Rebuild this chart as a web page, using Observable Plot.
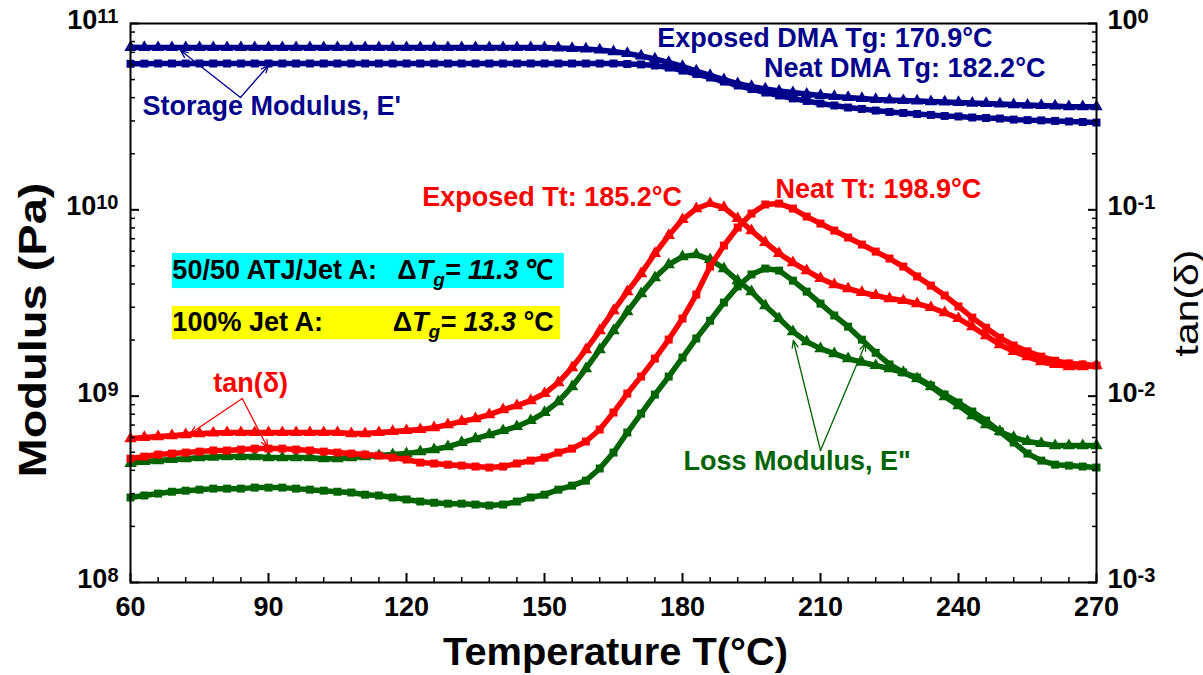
<!DOCTYPE html>
<html>
<head>
<meta charset="utf-8">
<script src="https://cdn.jsdelivr.net/npm/d3@7"></script>
<script src="https://cdn.jsdelivr.net/npm/@observablehq/plot@0.6"></script>
<style>
  html, body { margin: 0; padding: 0; background: #fff; }
  #chart { width: 1203px; height: 675px; }
</style>
</head>
<body>
<div id="chart"></div>
<script>
// ---------- data ----------
const temperatures = d3.range(60, 271, 3); // °C, 60..270 every 3 °C (71 points)

// Storage modulus E' (Pa)
const storageExposed = [
  7.45e10, 7.44e10, 7.43e10, 7.43e10, 7.43e10, 7.43e10, 7.43e10, 7.43e10, 7.43e10, 7.43e10,
  7.43e10, 7.43e10, 7.43e10, 7.43e10, 7.43e10, 7.43e10, 7.43e10, 7.43e10, 7.43e10, 7.43e10,
  7.43e10, 7.43e10, 7.43e10, 7.43e10, 7.43e10, 7.43e10, 7.43e10, 7.43e10, 7.43e10, 7.43e10,
  7.43e10, 7.39e10, 7.34e10, 7.30e10, 7.21e10, 7.07e10, 6.90e10, 6.69e10, 6.45e10, 6.18e10,
  5.88e10, 5.56e10, 5.26e10, 5.00e10, 4.76e10, 4.59e10, 4.45e10, 4.34e10, 4.26e10, 4.18e10,
  4.11e10, 4.06e10, 4.01e10, 3.96e10, 3.91e10, 3.89e10, 3.86e10, 3.84e10, 3.81e10, 3.79e10,
  3.77e10, 3.74e10, 3.72e10, 3.70e10, 3.67e10, 3.65e10, 3.63e10, 3.61e10, 3.58e10, 3.58e10,
  3.58e10
];
const storageNeat = [
  6.08e10, 6.09e10, 6.10e10, 6.10e10, 6.10e10, 6.10e10, 6.10e10, 6.10e10, 6.10e10, 6.10e10,
  6.10e10, 6.10e10, 6.10e10, 6.10e10, 6.10e10, 6.10e10, 6.10e10, 6.10e10, 6.10e10, 6.10e10,
  6.10e10, 6.10e10, 6.10e10, 6.10e10, 6.10e10, 6.10e10, 6.10e10, 6.10e10, 6.10e10, 6.10e10,
  6.10e10, 6.10e10, 6.10e10, 6.10e10, 6.10e10, 6.10e10, 6.06e10, 6.03e10, 5.95e10, 5.80e10,
  5.59e10, 5.36e10, 5.13e10, 4.88e10, 4.65e10, 4.45e10, 4.26e10, 4.11e10, 3.96e10, 3.84e10,
  3.72e10, 3.63e10, 3.54e10, 3.48e10, 3.41e10, 3.35e10, 3.31e10, 3.27e10, 3.23e10, 3.19e10,
  3.17e10, 3.13e10, 3.11e10, 3.09e10, 3.05e10, 3.03e10, 3.02e10, 3.00e10, 2.98e10, 2.96e10,
  2.94e10
];
// tan(delta) (right axis)
const tanExposed = [
  5.92e-3, 6.00e-3, 6.07e-3, 6.14e-3, 6.22e-3, 6.30e-3, 6.34e-3, 6.38e-3, 6.38e-3, 6.38e-3,
  6.38e-3, 6.38e-3, 6.38e-3, 6.38e-3, 6.38e-3, 6.38e-3, 6.30e-3, 6.30e-3, 6.38e-3, 6.46e-3,
  6.54e-3, 6.62e-3, 6.78e-3, 7.04e-3, 7.31e-3, 7.58e-3, 7.96e-3, 8.47e-3, 8.90e-3, 9.47e-3,
  1.033e-2, 1.183e-2, 1.424e-2, 1.779e-2, 2.249e-2, 2.880e-2, 3.642e-2, 4.55e-2, 5.83e-2, 7.28e-2,
  8.87e-2, 0.1016, 0.1081, 0.1029, 8.98e-2, 7.74e-2, 6.68e-2, 5.83e-2, 5.21e-2, 4.72e-2,
  4.28e-2, 3.97e-2, 3.78e-2, 3.60e-2, 3.47e-2, 3.34e-2, 3.26e-2, 3.14e-2, 2.99e-2, 2.81e-2,
  2.61e-2, 2.36e-2, 2.11e-2, 1.89e-2, 1.74e-2, 1.63e-2, 1.53e-2, 1.48e-2, 1.44e-2, 1.44e-2,
  1.46e-2
];
const tanNeat = [
  4.62e-3, 4.74e-3, 4.86e-3, 4.92e-3, 4.98e-3, 5.04e-3, 5.11e-3, 5.11e-3, 5.17e-3, 5.23e-3,
  5.23e-3, 5.23e-3, 5.17e-3, 5.11e-3, 5.04e-3, 4.98e-3, 4.92e-3, 4.86e-3, 4.80e-3, 4.68e-3,
  4.57e-3, 4.40e-3, 4.35e-3, 4.29e-3, 4.24e-3, 4.19e-3, 4.14e-3, 4.19e-3, 4.35e-3, 4.51e-3,
  4.68e-3, 4.98e-3, 5.23e-3, 5.71e-3, 6.62e-3, 8.17e-3, 1.033e-2, 1.274e-2, 1.591e-2, 2.013e-2,
  2.61e-2, 3.51e-2, 4.96e-2, 6.43e-2, 8.04e-2, 9.55e-2, 0.1068, 0.1081, 0.1016, 9.20e-2,
  8.44e-2, 7.74e-2, 7.10e-2, 6.51e-2, 5.97e-2, 5.48e-2, 4.96e-2, 4.39e-2, 3.92e-2, 3.47e-2,
  3.03e-2, 2.64e-2, 2.33e-2, 2.06e-2, 1.87e-2, 1.74e-2, 1.63e-2, 1.55e-2, 1.50e-2, 1.48e-2,
  1.46e-2
];
// Loss modulus E'' (Pa)
const lossExposed = [
  4.35e8, 4.46e8, 4.51e8, 4.57e8, 4.62e8, 4.68e8, 4.71e8, 4.74e8, 4.74e8, 4.74e8,
  4.68e8, 4.68e8, 4.68e8, 4.68e8, 4.62e8, 4.62e8, 4.68e8, 4.74e8, 4.80e8, 4.86e8,
  4.92e8, 5.04e8, 5.17e8, 5.36e8, 5.64e8, 5.92e8, 6.22e8, 6.54e8, 6.87e8, 7.40e8,
  8.17e8, 9.35e8, 1.126e9, 1.406e9, 1.779e9, 2.249e9, 2.84e9, 3.55e9, 4.33e9, 5.08e9,
  5.61e9, 5.75e9, 5.41e9, 4.84e9, 4.17e9, 3.64e9, 3.06e9, 2.61e9, 2.22e9, 1.96e9,
  1.80e9, 1.69e9, 1.59e9, 1.52e9, 1.46e9, 1.406e9, 1.34e9, 1.24e9, 1.126e9, 9.95e8,
  8.90e8, 7.87e8, 7.04e8, 6.46e8, 6.00e8, 5.71e8, 5.57e8, 5.43e8, 5.43e8, 5.43e8,
  5.43e8
];
const lossNeat = [
  2.86e8, 2.93e8, 3.00e8, 3.07e8, 3.11e8, 3.15e8, 3.19e8, 3.19e8, 3.19e8, 3.23e8,
  3.23e8, 3.23e8, 3.19e8, 3.15e8, 3.11e8, 3.07e8, 3.04e8, 2.96e8, 2.93e8, 2.86e8,
  2.79e8, 2.72e8, 2.68e8, 2.65e8, 2.65e8, 2.62e8, 2.59e8, 2.62e8, 2.72e8, 2.86e8,
  2.96e8, 3.15e8, 3.31e8, 3.52e8, 4.09e8, 4.98e8, 6.38e8, 8.06e8, 1.020e9, 1.274e9,
  1.611e9, 2.04e9, 2.54e9, 3.18e9, 3.88e9, 4.50e9, 4.84e9, 4.72e9, 4.17e9, 3.64e9,
  3.14e9, 2.71e9, 2.36e9, 2.01e9, 1.71e9, 1.48e9, 1.34e9, 1.26e9, 1.14e9, 1.020e9,
  9.24e8, 8.27e8, 7.40e8, 6.46e8, 5.64e8, 4.92e8, 4.51e8, 4.29e8, 4.24e8, 4.19e8,
  4.14e8
];

// tick values
const xTicks = [60, 90, 120, 150, 180, 210, 240, 270];
const modulusTicks = [1e8, 1e9, 1e10, 1e11];
const tanTicks = [1e-3, 1e-2, 1e-1, 1];

// annotation texts
const noteTexts = ["Exposed DMA Tg: 170.9°C", "Neat DMA Tg: 182.2°C", "Storage Modulus, E'",
                   "Exposed Tt: 185.2°C", "Neat Tt: 198.9°C", "tan(δ)", "Loss Modulus, E\""];
const noteT = [247.4, 258.9, 62.6, 123.4, 200.2, 86.1, 180.2];
const noteE = [8.36e10, 5.77e10, 3.58e10, 1.171e10, 1.285e10, 1.168e9, 4.46e8];
const noteAnchor = ["end", "end", "start", "start", "start", "middle", "start"];
const noteKind = ["storage", "storage", "storage", "tan", "tan", "tan", "loss"];

const boxLabels = ["50/50 ATJ/Jet A:", "100% Jet A:"];
const boxDelta = ["11.3", "13.3"];
const boxUnit = ["℃", "°C"];
const boxT1 = [69.1, 69.1], boxT2 = [154.3, 153.5];
const boxE1 = [3.78e9, 2.01e9], boxE2 = [5.83e9, 3.03e9];
const boxTextE = [4.72e9, 2.48e9];
const boxDeltaT = [118.0, 117.0];
const boxKind = ["cyan", "yellow"];

const arrowT1 = [83.9, 83.9, 84.3, 84.3, 210.0, 210.0];
const arrowE1 = [4.01e10, 4.01e10, 9.71e8, 9.71e8, 5.11e8, 5.11e8];
const arrowT2 = [70.9, 90.0, 73.0, 89.8, 204.1, 219.8];
const arrowE2 = [7.16e10, 5.95e10, 6.30e8, 5.30e8, 1.99e9, 1.916e9];
const arrowKind = ["storage", "storage", "tan", "tan", "loss", "loss"];

// ---------- styles ----------
const COLORS = {storage: "#00008B", tan: "#FF0000", loss: "#006400", cyan: "#00FFFF", yellow: "#FFFF00"};
const TAN_TO_MODULUS = 1e11; // right axis 1e-3..1e0 shares the pixels of 1e8..1e11
const FONT = "'Liberation Sans', Arial, Helvetica, sans-serif";

const seriesDefs = [
  {values: lossNeat, factor: 1, kind: "loss", symbol: "square"},
  {values: lossExposed, factor: 1, kind: "loss", symbol: "triangle"},
  {values: tanNeat, factor: TAN_TO_MODULUS, kind: "tan", symbol: "square"},
  {values: tanExposed, factor: TAN_TO_MODULUS, kind: "tan", symbol: "triangle"},
  {values: storageNeat, factor: 1, kind: "storage", symbol: "square"},
  {values: storageExposed, factor: 1, kind: "storage", symbol: "triangle"}
];

const marks = [];
for (const s of seriesDefs) {
  const rows = s.values.map((v, i) => ({T: temperatures[i], y: v * s.factor}));
  marks.push(Plot.line(rows, {x: "T", y: "y", stroke: COLORS[s.kind], strokeWidth: 5.5}));
  marks.push(Plot.dot(rows, {x: "T", y: "y", symbol: s.symbol,
    r: s.symbol === "square" ? 4.5 : 4.6, fill: COLORS[s.kind]}));
}

// minor ticks
const xMinor = d3.range(60, 271, 6).filter(t => (t - 60) % 30 !== 0);
const modulusMinor = [];
for (let e = 8; e < 11; e++) for (let m = 2; m <= 9; m++) modulusMinor.push(m * Math.pow(10, e));
const tanMinor = modulusMinor.map(v => v / TAN_TO_MODULUS);

// axes
marks.push(
  Plot.frame({stroke: "black", strokeWidth: 2}),
  Plot.axisX({ticks: xTicks, tickSize: -9, strokeWidth: 2, fill: "none", label: null}),
  Plot.axisX({ticks: xMinor, tickSize: -5, strokeWidth: 1.5, fill: "none", label: null}),
  Plot.axisX({ticks: xTicks, tickSize: 0, tickPadding: 14, fontSize: 27, fontWeight: "bold", label: null}),
  Plot.axisY({anchor: "left", ticks: modulusTicks, tickSize: -9, strokeWidth: 2, fill: "none", label: null}),
  Plot.axisY({anchor: "left", ticks: modulusMinor, tickSize: -5, strokeWidth: 1.5, fill: "none", label: null}),
  Plot.axisY({anchor: "left", ticks: modulusTicks, tickSize: 0, tickPadding: 12, dy: -3,
    fontSize: 27, fontWeight: "bold", label: null,
    tickFormat: d => `10^${Math.round(Math.log10(d))}`}),
  Plot.axisY({anchor: "right", ticks: tanTicks.map(t => t * TAN_TO_MODULUS), tickSize: -9, strokeWidth: 2, fill: "none", label: null}),
  Plot.axisY({anchor: "right", ticks: tanMinor.map(t => t * TAN_TO_MODULUS), tickSize: -5, strokeWidth: 1.5, fill: "none", label: null}),
  Plot.axisY({anchor: "right", ticks: tanTicks.map(t => t * TAN_TO_MODULUS), tickSize: 0, tickPadding: 11, dy: -3,
    fontSize: 27, fontWeight: "bold", label: null,
    tickFormat: d => `10^${Math.round(Math.log10(d / TAN_TO_MODULUS))}`})
);

// axis titles
marks.push(
  Plot.text(["Modulus (Pa)"], {text: d => d, frameAnchor: "left", rotate: -90, dx: -97, dy: 27,
    textAnchor: "middle", lineAnchor: "middle", fontSize: 38, fontWeight: "bold", fill: "black"}),
  Plot.text(["tan(δ)"], {text: d => d, frameAnchor: "right", rotate: -90, dx: 91, dy: 0,
    textAnchor: "middle", lineAnchor: "middle", fontSize: 33, fontWeight: "normal", fill: "black"}),
  Plot.text(["Temperature T(°C)"], {text: d => d, frameAnchor: "bottom", dx: 2, dy: 70,
    textAnchor: "middle", lineAnchor: "middle", fontSize: 38, fontWeight: "bold", fill: "black"})
);

// highlighted boxes
boxLabels.forEach((lab, i) => {
  const row = {T1: boxT1[i], T2: boxT2[i], E1: boxE1[i], E2: boxE2[i], TE: boxTextE[i],
               DT: boxDeltaT[i], label: lab, delta: boxDelta[i], unit: boxUnit[i]};
  marks.push(
    Plot.rect([row], {x1: "T1", x2: "T2", y1: "E1", y2: "E2", fill: COLORS[boxKind[i]]}),
    Plot.text([row], {x: "T1", y: "TE", text: "label", textAnchor: "start", fontSize: 27, fontWeight: "bold", fill: "black"}),
    Plot.text([row], {x: "DT", y: "TE", text: d => `ΔT_g= ${d.delta} ${d.unit}`, textAnchor: "start",
      fontSize: 27, fontWeight: "bold", fill: "black"})
  );
});

// notes
noteTexts.forEach((t, i) => {
  marks.push(Plot.text([{t, T: noteT[i], E: noteE[i]}], {x: "T", y: "E", text: "t",
    textAnchor: noteAnchor[i], fontSize: 27, fontWeight: "bold", fill: COLORS[noteKind[i]]}));
});

// arrows
arrowT1.forEach((t, i) => {
  marks.push(Plot.arrow([{x1: t, y1: arrowE1[i], x2: arrowT2[i], y2: arrowE2[i]}],
    {x1: "x1", y1: "y1", x2: "x2", y2: "y2", stroke: COLORS[arrowKind[i]], strokeWidth: 1.3,
     headLength: 9, headAngle: 45}));
});

const svg = Plot.plot({
  width: 1203,
  height: 675,
  marginLeft: 130,
  marginRight: 107,
  marginTop: 23,
  marginBottom: 93,
  style: {fontFamily: FONT, fontSize: "27px", fontWeight: "bold", background: "#fff", color: "black", overflow: "visible"},
  x: {domain: [60, 270]},
  y: {type: "log", domain: [1e8, 1e11]},
  marks
});

document.getElementById("chart").appendChild(svg);

// ---------- post-processing: superscripts, subscripts, title lengths ----------
const root = d3.select(svg);
root.selectAll("text").each(function () {
  const txt = this.textContent;
  const sel = d3.select(this);
  let m = txt.match(/^10\^(-?\d+)$/);
  if (m) {
    sel.text("10");
    sel.append("tspan").attr("dy", -6).attr("font-size", 20).text(m[1]);
    return;
  }
  m = txt.match(/^ΔT_g= (\S+) (.+)$/);
  if (m) {
    sel.text(null);
    sel.append("tspan").text("Δ");
    sel.append("tspan").attr("font-style", "italic").text("T");
    sel.append("tspan").attr("font-style", "italic").attr("font-size", 19).attr("dy", 7).text("g");
    sel.append("tspan").attr("font-style", "italic").attr("dy", -7).text("= " + m[1]);
    sel.append("tspan").text(" " + m[2]);
    return;
  }
  if (txt === "Modulus (Pa)") sel.attr("textLength", 295).attr("lengthAdjust", "spacingAndGlyphs");
  if (txt === "tan(δ)" && this.getAttribute("transform") && this.getAttribute("transform").includes("rotate"))
    sel.attr("textLength", 107).attr("lengthAdjust", "spacingAndGlyphs");
  if (txt === "Temperature T(°C)") sel.attr("textLength", 345).attr("lengthAdjust", "spacingAndGlyphs");
});
</script>
</body>
</html>
